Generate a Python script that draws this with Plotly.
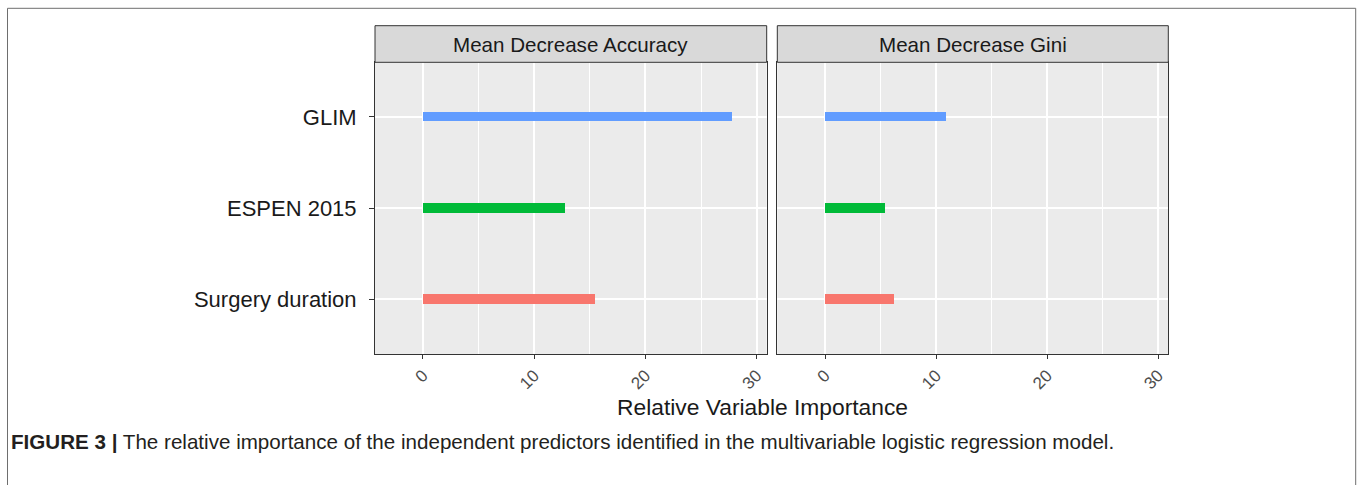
import plotly.graph_objects as go

# ---- data ----
predictors = ["GLIM", "ESPEN 2015", "Surgery duration"]
accuracy = [27.8, 12.75, 15.5]
gini = [10.9, 5.4, 6.25]
bar_colors = ["#619CFF", "#00BA38", "#F8766D"]
panel_titles = ["Mean Decrease Accuracy", "Mean Decrease Gini"]
x_ticks = [0, 10, 20, 30]
x_title = "Relative Variable Importance"
caption = ("<b>FIGURE 3 |</b> The relative importance of the independent predictors "
           "identified in the multivariable logistic regression model.")

W, H = 1357, 485
def px(x):
    return x / W
def py(y):
    return 1 - y / H

FONT = "Liberation Sans, Arial"

fig = go.Figure()
for i, vals in enumerate([accuracy, gini]):
    fig.add_trace(go.Bar(
        y=predictors, x=vals, base=0, orientation="h",
        marker=dict(color=bar_colors, line=dict(width=0)),
        width=0.102, xaxis="x" if i == 0 else "x2", yaxis="y" if i == 0 else "y2",
        showlegend=False, hoverinfo="x+y"))

dom1 = [px(375), px(766.7)]
dom2 = [px(777.3), px(1168.3)]
ydom = [py(354), py(62.3)]

xcommon = dict(range=[-4.3, 30.9], tickvals=x_ticks, ticktext=[str(t) for t in x_ticks],
               showgrid=True, gridcolor="white", gridwidth=1.6,
               minor=dict(dtick=5, tick0=0, showgrid=True, gridcolor="white", gridwidth=0.8),
               zeroline=False, showline=True, linecolor="#333333", linewidth=1, mirror=True,
               ticks="outside", ticklen=4, tickcolor="#333333", tickwidth=1,
               tickangle=-45, tickfont=dict(family=FONT, size=17, color="#4D4D4D"))
ycat = ["Surgery duration", "ESPEN 2015", "GLIM"]
ycommon = dict(categoryorder="array", categoryarray=ycat, range=[-0.6, 2.6],
               showgrid=True, gridcolor="white", gridwidth=1.6, zeroline=False,
               showline=True, linecolor="#333333", linewidth=1, mirror=True, domain=ydom)

fig.update_layout(
    width=W, height=H, margin=dict(l=0, r=0, t=0, b=0),
    paper_bgcolor="white", plot_bgcolor="#EBEBEB", bargap=0,
    xaxis=dict(xcommon, domain=dom1, anchor="y"),
    xaxis2=dict(xcommon, domain=dom2, anchor="y2"),
    yaxis=dict(ycommon, anchor="x", ticks="outside", ticklen=5, tickcolor="#333333",
               ticklabelstandoff=8,
               tickfont=dict(family=FONT, size=22, color="#1A1A1A")),
    yaxis2=dict(ycommon, anchor="x2", showticklabels=False, ticks=""),
)

shapes = []
annotations = []
# strips
for dom, title in zip([dom1, dom2], panel_titles):
    shapes.append(dict(type="rect", xref="paper", yref="paper", x0=dom[0], x1=dom[1],
                       y0=py(62.3), y1=py(25.7), fillcolor="#D9D9D9",
                       line=dict(color="#333333", width=1), layer="above"))
    annotations.append(dict(xref="paper", yref="paper", x=(dom[0] + dom[1]) / 2, y=py(44),
                            text=title, showarrow=False, xanchor="center", yanchor="middle",
                            font=dict(family=FONT, size=20.6, color="#1A1A1A")))
# outer frame (left, top, right)
for (x0, y0, x1, y1) in [(7.5, 8.3, 7.5, 500), (7.5, 8.3, 1355.7, 8.3), (1355.7, 8.3, 1355.7, 500)]:
    shapes.append(dict(type="line", xref="paper", yref="paper", x0=px(x0), y0=py(y0),
                       x1=px(x1), y1=py(y1), line=dict(color="#6E6E6E", width=1)))
annotations.append(dict(xref="paper", yref="paper", x=px(762), y=py(407), text=x_title,
                        showarrow=False, xanchor="center", yanchor="middle",
                        font=dict(family=FONT, size=22.8, color="#1A1A1A")))
annotations.append(dict(xref="paper", yref="paper", x=px(9), y=py(441), text=caption,
                        showarrow=False, xanchor="left", yanchor="middle",
                        font=dict(family=FONT, size=20.6, color="#231F20")))
fig.update_layout(shapes=shapes, annotations=annotations)

fig.write_html("out.html", config={"displayModeBar": False},
               post_script="document.body.style.margin='0';document.body.style.overflow='hidden';")
